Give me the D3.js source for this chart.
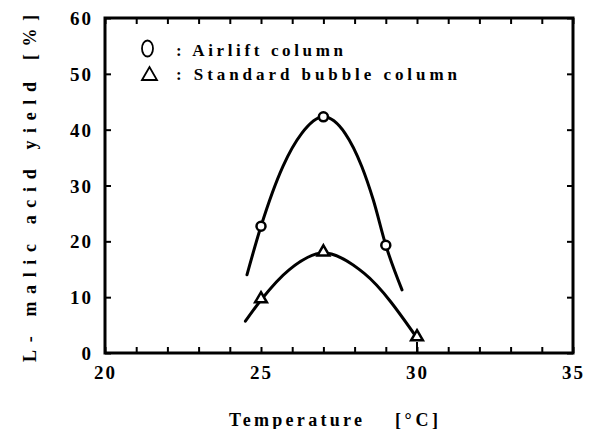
<!DOCTYPE html>
<html><head><meta charset="utf-8">
<script src="https://cdn.jsdelivr.net/npm/d3@7"></script>
<style>
html,body{margin:0;padding:0;background:#fff;}
</style></head>
<body><svg id="c" width="593" height="429"></svg>
<script>
// ---- data ----
const xTicks = [20, 25, 30, 35];
const yTicks = [0, 10, 20, 30, 40, 50, 60];
const airliftX = [25, 27, 29];
const airliftY = [22.7, 42.3, 19.3];
const standardX = [25, 27, 30];
const standardY = [9.5, 17.9, 2.7];
// fitted curves
const airliftCurveX = [24.55, 25, 25.7, 26.3, 27, 27.7, 28.23, 28.6, 29, 29.52];
const airliftCurveY = [14.0, 22.7, 33.4, 39.3, 42.3, 39.3, 33.4, 27.4, 19.3, 11.3];
const standardCurveX = [24.5, 25, 25.9, 27, 28.3, 30];
const standardCurveY = [5.7, 9.5, 14.9, 17.9, 14.3, 2.7];
const legendLabels = [": Airlift column", ": Standard bubble column"];
const xTitle = "Temperature";
const xUnit = "[\u00B0C]";
const yTitle = "L- malic acid yield";
const yUnit = "[%]";

const FONT = "Liberation Serif";
const svg = d3.select("#c");
const L = 105, R = 573, T = 18, B = 353;
const x = d3.scaleLinear().domain([20, 35]).range([L, R]);
const y = d3.scaleLinear().domain([0, 60]).range([B, T]);

const minor = d3.range(20, 36, 1);
const gB = svg.append("g").attr("transform", `translate(0,${B})`)
  .call(d3.axisBottom(x).tickValues(minor).tickSizeInner(-6).tickSizeOuter(0).tickFormat(""));
const gT = svg.append("g").attr("transform", `translate(0,${T})`)
  .call(d3.axisTop(x).tickValues(minor).tickSizeInner(-6).tickSizeOuter(0).tickFormat(""));
const gX = svg.append("g").attr("transform", `translate(0,${B})`)
  .call(d3.axisBottom(x).tickValues(xTicks).tickSize(0).tickPadding(13).tickFormat(d3.format("d")));
const gL = svg.append("g").attr("transform", `translate(${L},0)`)
  .call(d3.axisLeft(y).tickValues(yTicks).tickSizeInner(-6).tickSizeOuter(0).tickPadding(12).tickFormat(d3.format("d")));
const gR = svg.append("g").attr("transform", `translate(${R},0)`)
  .call(d3.axisRight(y).tickValues(yTicks).tickSizeInner(-6).tickSizeOuter(0).tickFormat(""));
[gB, gT, gX, gL, gR].forEach(g => {
  g.attr("font-family", null).attr("font-size", null);
  g.select(".domain").remove();
  g.selectAll("line").attr("stroke", "#000").attr("stroke-width", 2);
  g.selectAll("text").style("font-family", FONT).style("font-weight", "bold")
    .style("font-size", "19px").attr("letter-spacing", 2).attr("fill", "#000");
});
gL.selectAll("text").attr("dy", "0.35em");

svg.append("rect").attr("x", L).attr("y", T).attr("width", R - L).attr("height", B - T)
  .attr("fill", "none").attr("stroke", "#000").attr("stroke-width", 3);

const line = d3.line().x(d => x(d[0])).y(d => y(d[1])).curve(d3.curveMonotoneX);
svg.append("path").datum(d3.zip(airliftCurveX, airliftCurveY)).attr("d", line)
  .attr("fill", "none").attr("stroke", "#000").attr("stroke-width", 3).attr("stroke-linecap", "round");
svg.append("path").datum(d3.zip(standardCurveX, standardCurveY)).attr("d", line)
  .attr("fill", "none").attr("stroke", "#000").attr("stroke-width", 3).attr("stroke-linecap", "round");

svg.selectAll(".ca").data(d3.zip(airliftX, airliftY)).join("circle")
  .attr("cx", d => x(d[0])).attr("cy", d => y(d[1])).attr("r", 4.5)
  .attr("fill", "#fff").attr("stroke", "#000").attr("stroke-width", 2.5);
const tri = d3.symbol().type(d3.symbolTriangle).size(60);
svg.selectAll(".ts").data(d3.zip(standardX, standardY)).join("path")
  .attr("transform", d => `translate(${x(d[0])},${y(d[1]) - 1})`).attr("d", tri)
  .attr("fill", "#fff").attr("stroke", "#000").attr("stroke-width", 2.5);
svg.append("line").attr("x1", x(30)).attr("x2", x(30)).attr("y1", y(standardY[2]) + 4).attr("y2", B)
  .attr("stroke", "#000").attr("stroke-width", 2);

svg.append("ellipse").attr("cx", 147.5).attr("cy", 48.5).attr("rx", 5.5).attr("ry", 8)
  .attr("fill", "none").attr("stroke", "#000").attr("stroke-width", 1.8);
svg.append("path").attr("d", "M142,80 L149.5,67 L157,80 Z")
  .attr("fill", "none").attr("stroke", "#000").attr("stroke-width", 1.8);

function txt(sel, size) {
  return sel.style("font-family", FONT).style("font-weight", "bold").style("font-size", size + "px").attr("fill", "#000");
}
txt(svg.append("text"), 17).attr("x", 176).attr("y", 56)
  .attr("textLength", 167).attr("lengthAdjust", "spacing").text(legendLabels[0]);
txt(svg.append("text"), 17).attr("x", 176).attr("y", 80)
  .attr("textLength", 281).attr("lengthAdjust", "spacing").text(legendLabels[1]);
txt(svg.append("text"), 18).attr("x", 229).attr("y", 426)
  .attr("textLength", 133).attr("lengthAdjust", "spacing").text(xTitle);
txt(svg.append("text"), 18).attr("x", 395).attr("y", 426)
  .attr("textLength", 43).attr("lengthAdjust", "spacing").text(xUnit);
txt(svg.append("text"), 18).attr("transform", "translate(36,362) rotate(-90)")
  .attr("textLength", 280).attr("lengthAdjust", "spacing").text(yTitle);
txt(svg.append("text"), 18).attr("transform", "translate(36,60) rotate(-90)")
  .attr("textLength", 45).attr("lengthAdjust", "spacing").text(yUnit);
</script></body></html>
